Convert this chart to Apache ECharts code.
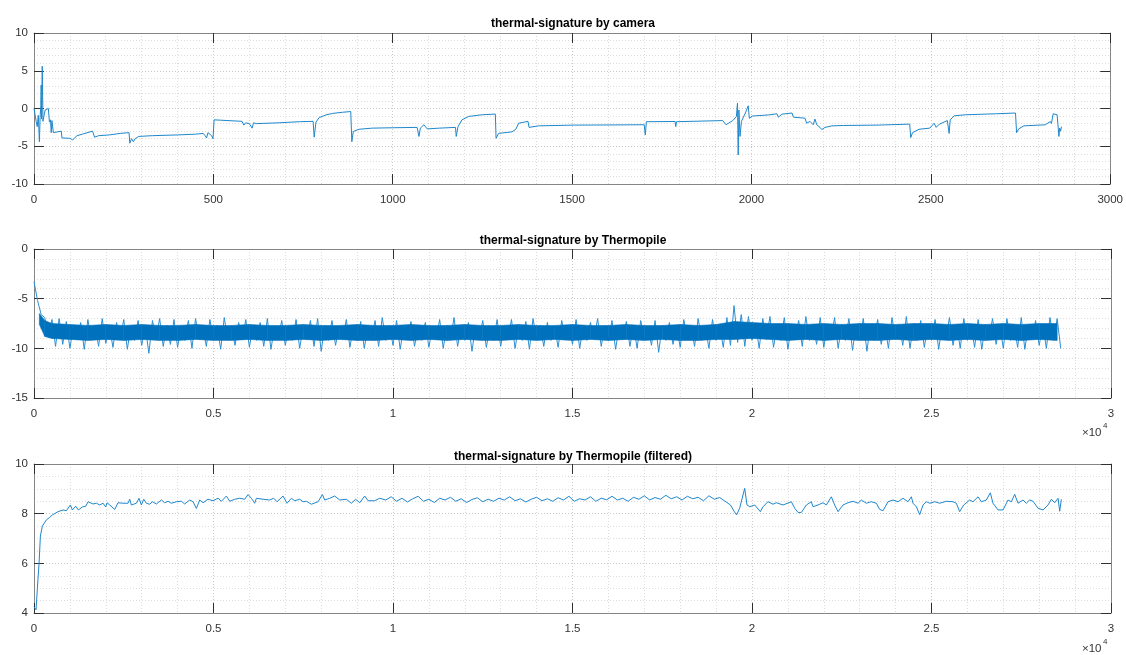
<!DOCTYPE html>
<html><head><meta charset="utf-8">
<script src="https://cdn.jsdelivr.net/npm/echarts@6/dist/echarts.min.js"></script>
<style>html,body{margin:0;padding:0;background:#fff}#c{width:1126px;height:655px}</style>
</head><body><div id="c"></div><script>
// ---- data ----
const titles = ['thermal-signature by camera', 'thermal-signature by Thermopile', 'thermal-signature by Thermopile (filtered)'];

// camera: [frame index, value]
const cameraData = [[0,0.0],[3,-0.8],[6,-1.7],[9,-2.4],[12,-0.9],[15,-4.4],[17,-1.2],[19,0.4],[20,3.1],[21,-1.4],[23,5.6],[25,-1.7],[28,-1.5],[31,-0.2],[36,-0.3],[40,0.0],[43,-1.8],[46,-1.5],[48,-3.2],[50,-1.6],[52,-1.5],[54,-3.2],[57,-3.0],[76,-3.0],[78,-3.9],[100,-3.95],[108,-4.15],[113,-4.0],[120,-3.6],[135,-3.4],[163,-3.0],[167,-2.9],[169,-3.8],[180,-3.6],[210,-3.5],[240,-3.3],[265,-3.2],[267,-4.6],[272,-4.0],[277,-4.4],[282,-4.0],[292,-3.7],[330,-3.6],[400,-3.5],[450,-3.4],[472,-3.3],[477,-3.6],[481,-3.9],[485,-3.2],[490,-3.0],[495,-3.6],[499,-4.0],[502,-1.5],[520,-1.55],[580,-1.7],[585,-2.2],[590,-1.9],[600,-2.0],[608,-2.6],[612,-1.9],[620,-2.0],[680,-1.9],[740,-1.75],[778,-1.7],[781,-3.8],[786,-1.8],[795,-1.2],[814,-0.85],[832,-0.65],[860,-0.5],[883,-0.4],[886,-4.4],[890,-3.05],[906,-2.75],[943,-2.6],[1000,-2.55],[1068,-2.5],[1073,-3.7],[1077,-2.6],[1087,-2.15],[1096,-2.7],[1130,-2.6],[1175,-2.5],[1177,-3.7],[1182,-2.4],[1193,-1.5],[1212,-1.05],[1249,-0.83],[1286,-0.74],[1288,-3.95],[1295,-3.3],[1332,-3.1],[1343,-2.75],[1351,-1.95],[1377,-1.7],[1380,-2.5],[1406,-2.3],[1504,-2.2],[1600,-2.18],[1701,-2.15],[1704,-3.5],[1707,-1.75],[1787,-1.72],[1789,-2.4],[1791,-1.75],[1920,-1.6],[1929,-2.15],[1948,-1.6],[1958,-1.05],[1961,0.7],[1963,-6.15],[1965,-0.2],[1968,-3.7],[1972,-1.7],[1983,-0.6],[1991,0.36],[1994,-1.3],[2002,-1.0],[2048,-0.85],[2071,-0.7],[2075,-1.15],[2085,-0.75],[2113,-0.6],[2117,-1.15],[2149,-1.28],[2154,-1.95],[2163,-1.7],[2172,-2.15],[2177,-1.4],[2182,-2.15],[2191,-2.5],[2196,-2.8],[2205,-2.5],[2224,-2.3],[2256,-2.25],[2350,-2.2],[2441,-2.07],[2444,-3.85],[2449,-3.2],[2467,-2.75],[2497,-2.6],[2509,-1.95],[2515,-2.5],[2523,-2.1],[2546,-1.6],[2551,-3.3],[2554,-1.5],[2565,-0.97],[2597,-0.83],[2680,-0.7],[2736,-0.6],[2739,-3.2],[2745,-2.7],[2759,-2.3],[2819,-2.16],[2833,-1.72],[2836,-2.0],[2841,-0.7],[2852,-0.83],[2857,-3.7],[2859,-2.6],[2862,-3.0],[2864,-2.4]];

// thermopile raw: one value per 100 samples (alternating visible spike extremes)
const thermoStep = 100;
const thermoValues = [
-3.3,-5.2,-6.6,-6.9,-8.9,-7.1,-9.8,-7.0,-9.6,-7.3,
-10.0,-7.7,-9.1,-7.4,-10.1,-7.1,-9.2,-7.7,-9.8,-7.0,
-9.5,-7.8,-9.9,-7.4,-9.1,-7.1,-10.1,-7.7,-9.2,-7.2,
-9.7,-7.8,-10.5,-7.2,-9.1,-7.0,-9.8,-7.7,-9.6,-7.1,
-9.9,-7.7,-9.2,-7.2,-10.0,-7.0,-9.1,-7.8,-9.8,-7.1,
-9.1,-7.7,-10.1,-6.9,-9.2,-7.8,-9.7,-7.4,-9.1,-7.1,
-9.9,-7.7,-9.2,-7.4,-9.8,-7.0,-10.1,-7.8,-9.1,-7.2,
-9.7,-7.7,-9.2,-7.1,-10.0,-7.8,-9.1,-7.2,-9.8,-7.0,
-10.3,-7.7,-9.2,-7.2,-9.7,-7.8,-9.1,-7.1,-9.9,-7.7,
-9.2,-7.3,-10.0,-7.8,-9.1,-7.2,-9.8,-6.9,-9.2,-7.7,
-9.7,-7.2,-10.1,-7.8,-9.1,-7.3,-9.8,-7.7,-9.2,-7.4,
-9.9,-7.8,-9.1,-7.1,-10.0,-7.7,-9.2,-6.9,-9.8,-7.8,
-9.2,-7.4,-10.3,-7.7,-9.1,-7.2,-9.9,-7.8,-9.2,-7.1,
-9.8,-7.7,-9.1,-7.1,-10.0,-7.8,-9.2,-7.3,-10.1,-7.0,
-9.1,-7.7,-9.8,-7.4,-9.2,-7.8,-9.9,-7.2,-9.1,-7.7,
-9.6,-7.1,-10.0,-7.8,-9.2,-7.4,-9.1,-7.0,-9.8,-7.7,
-9.2,-7.2,-10.1,-7.8,-9.1,-7.3,-9.8,-7.7,-10.0,-7.2,
-9.1,-7.8,-9.7,-7.2,-10.4,-7.7,-9.2,-7.4,-9.6,-7.8,
-9.9,-7.1,-9.1,-7.7,-9.8,-7.0,-9.2,-7.8,-10.0,-7.1,
-9.2,-7.7,-9.9,-6.9,-9.7,-5.7,-9.4,-6.6,-9.8,-6.8,
-9.2,-7.5,-10.0,-7.0,-9.1,-6.8,-9.9,-7.6,-9.2,-6.9,
-10.1,-7.6,-9.1,-7.2,-9.8,-6.8,-9.2,-7.6,-9.6,-6.9,
-9.9,-7.6,-9.1,-6.9,-10.0,-7.6,-9.2,-7.0,-10.2,-7.6,
-9.1,-7.0,-10.3,-7.6,-9.2,-7.1,-9.6,-7.6,-10.0,-6.9,
-9.1,-7.6,-9.7,-6.8,-10.0,-7.6,-9.2,-7.2,-9.9,-7.6,
-9.2,-7.1,-10.1,-7.6,-9.1,-6.9,-9.7,-7.6,-10.0,-7.0,
-9.2,-7.6,-9.9,-7.1,-10.1,-7.6,-9.1,-7.0,-9.6,-7.6,
-10.0,-7.0,-9.2,-7.6,-9.9,-6.9,-10.1,-7.6,-9.1,-7.2,
-9.7,-7.6,-10.0,-6.9,-9.2,-7.0,-10.0];

// thermopile raw: dense core of the noise band
const coreLeadX = [150, 300];          // start of the band (decay)
const coreLeadUpper = [-6.5, -7.2];
const coreLeadLower = [-7.6, -8.8];
const coreStart = 500;                  // then one pair per 500 samples
const coreStep = 500;
const coreUpper = [
-7.5,-7.6,-7.7,-7.6,-7.7,-7.6,-7.7,-7.7,-7.6,-7.7,
-7.7,-7.6,-7.7,-7.7,-7.6,-7.7,-7.7,-7.6,-7.7,-7.7,
-7.6,-7.7,-7.7,-7.6,-7.7,-7.7,-7.6,-7.7,-7.7,-7.6,
-7.7,-7.7,-7.6,-7.7,-7.7,-7.6,-7.7,-7.6,-7.3,-7.4,
-7.5,-7.5,-7.6,-7.5,-7.6,-7.5,-7.5,-7.6,-7.5,-7.5,
-7.6,-7.5,-7.6,-7.5,-7.6,-7.5,-7.5];
const coreLower = [
-9.0,-9.1,-9.2,-9.1,-9.2,-9.1,-9.2,-9.2,-9.1,-9.2,
-9.2,-9.1,-9.2,-9.2,-9.1,-9.2,-9.1,-9.2,-9.2,-9.1,
-9.2,-9.1,-9.2,-9.1,-9.2,-9.2,-9.1,-9.2,-9.1,-9.2,
-9.1,-9.2,-9.1,-9.2,-9.1,-9.2,-9.2,-9.1,-9.1,-9.0,
-9.1,-9.2,-9.1,-9.2,-9.1,-9.2,-9.2,-9.1,-9.2,-9.1,
-9.2,-9.1,-9.2,-9.1,-9.2,-9.1,-9.2];

// thermopile filtered: [sample, value]
const filteredData = [[1,4.25],[29,4.32],[57,4.13],[94,5.0],[141,6.0],[178,7.1],[233,7.5],[345,7.75],[438,7.85],[512,7.95],[670,8.08],[809,8.15],[902,8.12],[1013,8.35],[1069,8.15],[1162,8.3],[1236,8.15],[1348,8.27],[1441,8.3],[1506,8.48],[1645,8.39],[1738,8.42],[1831,8.35],[1923,8.42],[1998,8.27],[2035,8.44],[2109,8.35],[2248,8.17],[2341,8.44],[2480,8.42],[2620,8.42],[2666,8.58],[2713,8.35],[2852,8.42],[2926,8.62],[2991,8.35],[3056,8.58],[3130,8.42],[3223,8.38],[3297,8.48],[3409,8.39],[3548,8.55],[3641,8.44],[3734,8.5],[3827,8.42],[3966,8.48],[4105,8.5],[4198,8.39],[4337,8.55],[4430,8.48],[4523,8.21],[4616,8.55],[4709,8.44],[4848,8.58],[4987,8.52],[5127,8.62],[5220,8.5],[5359,8.71],[5452,8.5],[5591,8.58],[5730,8.62],[5869,8.58],[5962,8.77],[6055,8.62],[6148,8.42],[6194,8.62],[6380,8.58],[6566,8.55],[6677,8.62],[6770,8.48],[6937,8.71],[7049,8.42],[7169,8.62],[7262,8.52],[7402,8.58],[7494,8.48],[7587,8.5],[7726,8.38],[7912,8.48],[8033,8.77],[8098,8.55],[8237,8.62],[8376,8.71],[8516,8.55],[8701,8.58],[8840,8.42],[8961,8.58],[9073,8.44],[9212,8.71],[9305,8.52],[9490,8.52],[9630,8.62],
[9800,8.55],[9950,8.68],[10100,8.5],[10250,8.62],[10400,8.47],[10550,8.6],[10700,8.7],[10850,8.5],[11000,8.58],[11150,8.45],[11300,8.62],[11450,8.55],[11600,8.66],[11750,8.5],[11900,8.6],[12050,8.45],[12200,8.57],[12350,8.64],[12500,8.48],[12650,8.58],[12800,8.5],[12950,8.62],[13100,8.55],[13250,8.68],[13400,8.52],[13550,8.6],[13700,8.47],[13850,8.58],[14000,8.66],[14150,8.52],[14300,8.6],[14450,8.5],[14600,8.64],[14750,8.55],[14900,8.7],[15050,8.5],[15200,8.6],[15350,8.55],[15500,8.68],[15650,8.5],[15800,8.62],[15950,8.56],[16100,8.7],[16250,8.55],[16400,8.62],[16550,8.5],[16700,8.66],[16850,8.58],[17000,8.72],[17150,8.55],[17300,8.65],[17450,8.58],[17600,8.74],[17750,8.6],[17900,8.68],[18050,8.55],[18200,8.7],[18350,8.6],[18500,8.66],[18650,8.52],[18800,8.72],[18950,8.58],[19100,8.65],[19250,8.5],[19400,8.35],[19500,8.1],[19570,7.95],[19657,8.22],[19796,9.02],[19861,8.35],
[19936,8.28],[20075,8.35],[20233,8.08],[20307,8.28],[20446,8.48],[20585,8.38],[20678,8.44],[20864,8.35],[21096,8.48],[21189,8.22],[21282,8.05],[21375,8.05],[21514,8.35],[21653,8.48],[21700,8.28],[21839,8.35],[21978,8.44],[22071,8.35],[22210,8.68],[22303,8.35],[22396,8.08],[22535,8.35],[22675,8.44],[22814,8.5],[22953,8.42],[23046,8.55],[23185,8.42],[23325,8.48],[23464,8.42],[23557,8.17],[23650,8.12],[23789,8.48],[23928,8.55],[24067,8.48],[24207,8.62],[24346,8.48],[24439,8.68],[24485,8.42],[24578,8.28],[24671,7.96],[24764,8.35],[24857,8.48],[24950,8.42],[25089,8.48],[25228,8.42],[25414,8.5],[25600,8.48],[25692,8.42],[25785,8.08],[25897,8.35],[26064,8.55],[26157,8.48],[26296,8.68],[26389,8.48],[26528,8.55],[26639,8.84],[26713,8.42],[26853,8.15],[26992,8.15],[27131,8.55],[27224,8.48],[27317,8.78],[27410,8.42],[27549,8.55],[27642,8.42],[27735,8.55],[27828,8.5],[27968,8.22],[28107,8.15],[28246,8.35],[28339,8.58],[28432,8.44],[28525,8.62],[28571,8.1],[28618,8.58]];

const xTicks1 = {max: 3000, interval: 500, minor: 5};
const xTicks23 = {max: 30000, interval: 5000, minor: 5};
const yTicks = [{min:-10, max:10, interval:5, minor:5}, {min:-15, max:0, interval:5, minor:5}, {min:4, max:10, interval:2, minor:4}];

// ---- build chart ----
const FONT = 'Liberation Sans, Arial, Helvetica, sans-serif';
const LINE = '#0072BD';
const THIN = '#1f87cc';
const SPIKE = '#2b8fd4';
const FRAME = '#858585';
const TICK = '#303030';
const LABEL = '#333333';
const gridDefs = [
  {left: 34, top: 33, width: 1077, height: 151},
  {left: 34, top: 249, width: 1077, height: 149},
  {left: 34, top: 464, width: 1077, height: 149}
];
const majorGrid = {show: true, lineStyle: {color: '#c8c8c8', width: 1, type: [1, 2]}};
const minorGrid = {show: true, lineStyle: {color: '#dcdcdc', width: 1, type: [1, 2]}};

const xAxes = [], yAxes = [];
gridDefs.forEach((g, i) => {
  const xt = i === 0 ? xTicks1 : xTicks23;
  const yt = yTicks[i];
  const fmt = i === 0 ? (v => String(v)) : (v => String(v / 10000));
  const common = {type: 'value', gridIndex: i, min: 0, max: xt.max, interval: xt.interval,
    axisLine: {show: true, onZero: false, lineStyle: {color: FRAME, width: 1}},
    axisTick: {show: true, inside: true, length: 10, lineStyle: {color: TICK, width: 1}},
    minorTick: {show: false, splitNumber: xt.minor}};
  xAxes.push(Object.assign({}, common, {position: 'bottom',
    axisLabel: {show: true, margin: 10, fontSize: 11.5, color: LABEL, fontFamily: FONT, formatter: fmt},
    splitLine: majorGrid, minorSplitLine: minorGrid}));
  xAxes.push(Object.assign({}, common, {position: 'top', axisLabel: {show: false},
    splitLine: {show: false}, minorSplitLine: {show: false}}));
  const ycommon = {type: 'value', gridIndex: i, min: yt.min, max: yt.max, interval: yt.interval,
    axisLine: {show: true, onZero: false, lineStyle: {color: FRAME, width: 1}},
    axisTick: {show: true, inside: true, length: 10, lineStyle: {color: TICK, width: 1}},
    minorTick: {show: false, splitNumber: yt.minor}};
  yAxes.push(Object.assign({}, ycommon, {position: 'left',
    axisLabel: {show: true, margin: 6, fontSize: 11.5, color: LABEL, fontFamily: FONT},
    splitLine: majorGrid, minorSplitLine: minorGrid}));
  yAxes.push(Object.assign({}, ycommon, {position: 'right', axisLabel: {show: false},
    splitLine: {show: false}, minorSplitLine: {show: false}}));
});

const thermoData = thermoValues.map((v, k) => [k * thermoStep, v]);
// band outline: x, upper, lower
const bandX = coreLeadX.concat(coreUpper.map((v, k) => coreStart + k * coreStep));
const bandHi = coreLeadUpper.concat(coreUpper);
const bandLo = coreLeadLower.concat(coreLower);
// band segments: [x0, lo0, hi0, x1, lo1, hi1]
const coreSegments = [];
for (let k = 0; k + 1 < bandX.length; k++) {
  coreSegments.push([bandX[k], bandLo[k], bandHi[k], bandX[k + 1], bandLo[k + 1], bandHi[k + 1]]);
}

const lineSeries = (data, i, color, z) => ({type: 'line', xAxisIndex: 2 * i, yAxisIndex: 2 * i, data: data,
  showSymbol: false, symbol: 'none', lineStyle: {color: color, width: 1}, silent: true, z: z});

const titleTops = [18, 235, 451];
const option = {
  animation: false,
  backgroundColor: '#ffffff',
  textStyle: {fontFamily: FONT},
  title: titles.map((t, i) => ({text: t, left: 573, top: titleTops[i], textAlign: 'center',
    textStyle: {fontSize: 12, fontWeight: 'bold', color: '#000', fontFamily: FONT}, padding: 0})),
  grid: gridDefs,
  xAxis: xAxes,
  yAxis: yAxes,
  series: [
    lineSeries(cameraData, 0, THIN, 5),
    lineSeries(thermoData, 1, SPIKE, 4),
    {type: 'custom', xAxisIndex: 2, yAxisIndex: 2, data: coreSegments, silent: true, z: 5,
      encode: {x: [0, 3], y: [1, 2, 4, 5]},
      renderItem: function (params, api) {
        const a = api.coord([api.value(0), api.value(2)]);
        const b = api.coord([api.value(3), api.value(5)]);
        const c = api.coord([api.value(3), api.value(4)]);
        const d = api.coord([api.value(0), api.value(1)]);
        return {type: 'polygon', shape: {points: [a, b, c, d]},
          style: {fill: LINE, stroke: LINE, lineWidth: 0.6}};
      }},
    lineSeries(filteredData, 2, THIN, 5)
  ],
  graphic: [
    {type: 'text', left: 1082, top: 427, style: {text: '×10', fontSize: 11.5, fill: LABEL, fontFamily: FONT}},
    {type: 'text', left: 1103, top: 422, style: {text: '4', fontSize: 8, fill: LABEL, fontFamily: FONT}},
    {type: 'text', left: 1082, top: 643, style: {text: '×10', fontSize: 11.5, fill: LABEL, fontFamily: FONT}},
    {type: 'text', left: 1103, top: 638, style: {text: '4', fontSize: 8, fill: LABEL, fontFamily: FONT}}
  ]
};
const chart = echarts.init(document.getElementById('c'), null, {renderer: 'canvas'});
chart.setOption(option);
</script></body></html>
